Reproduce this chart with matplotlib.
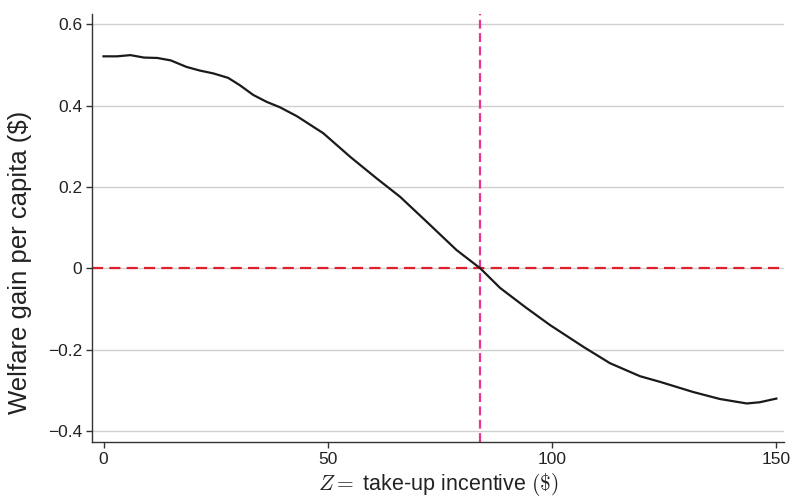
import matplotlib
matplotlib.use("Agg")
import matplotlib.pyplot as plt

plt.rcParams['font.family'] = ['Liberation Sans', 'DejaVu Sans']
plt.rcParams['mathtext.fontset'] = 'cm'

# Data
z = [0, 3, 6, 9, 12, 15, 18.5, 21.5, 24.5, 27.8, 30.4, 33.4, 36.4, 39.3, 43.1,
     49, 55, 60.9, 66.1, 72, 78.7, 84, 88.4, 94, 99.5, 107, 112.9, 119.6,
     124.1, 131.5, 137.4, 143.4, 146.3, 150]
gain = [0.521, 0.521, 0.524, 0.518, 0.517, 0.511, 0.495, 0.486, 0.479, 0.468,
        0.450, 0.426, 0.409, 0.396, 0.374, 0.332, 0.274, 0.221, 0.176, 0.115,
        0.045, 0.0, -0.048, -0.095, -0.139, -0.193, -0.233, -0.265, -0.279,
        -0.304, -0.321, -0.332, -0.329, -0.320]
z_star = 84
x_ticks = [0, 50, 100, 150]
y_ticks = [0.6, 0.4, 0.2, 0, -0.2, -0.4]
y_labels = ['0.6', '0.4', '0.2', '0', '\u22120.2', '\u22120.4']

fig = plt.figure(figsize=(7.94, 4.97), dpi=100)
ax = fig.add_axes([0.1159, 0.110, 0.8715, 0.8618])

for yt in y_ticks:
    ax.axhline(yt, color='#d0d0d0', lw=1.0, zorder=0)

ax.plot(z, gain, color='#1a1a1a', lw=1.6, zorder=3)
ax.axhline(0, color='#e0202e', lw=1.6, ls=(0, (5, 2.8)), zorder=2)
ax.axvline(z_star, color='#e8358f', lw=1.6, ls=(0, (4, 2)), zorder=2)

ax.set_xlim(-2.56, 151.7)
ax.set_ylim(-0.4275, 0.625)
ax.set_xticks(x_ticks)
ax.set_yticks(y_ticks)
ax.set_yticklabels(y_labels)
ax.tick_params(direction='out', length=4, width=1, labelsize=12.5,
               colors='#333333', labelcolor='#222222', pad=3)

for s in ['top', 'right']:
    ax.spines[s].set_visible(False)
for s in ['left', 'bottom']:
    ax.spines[s].set_color('#333333')
    ax.spines[s].set_linewidth(1.0)

ax.set_xlabel(r'$Z =$ take-up incentive $(\$)$', fontsize=15.5, color='#222222', labelpad=2.5)
ax.set_ylabel('Welfare gain per capita ($)', fontsize=18.5, color='#222222')
ax.yaxis.set_label_coords(-0.087, 0.42)

fig.savefig('out.png', dpi=100)
